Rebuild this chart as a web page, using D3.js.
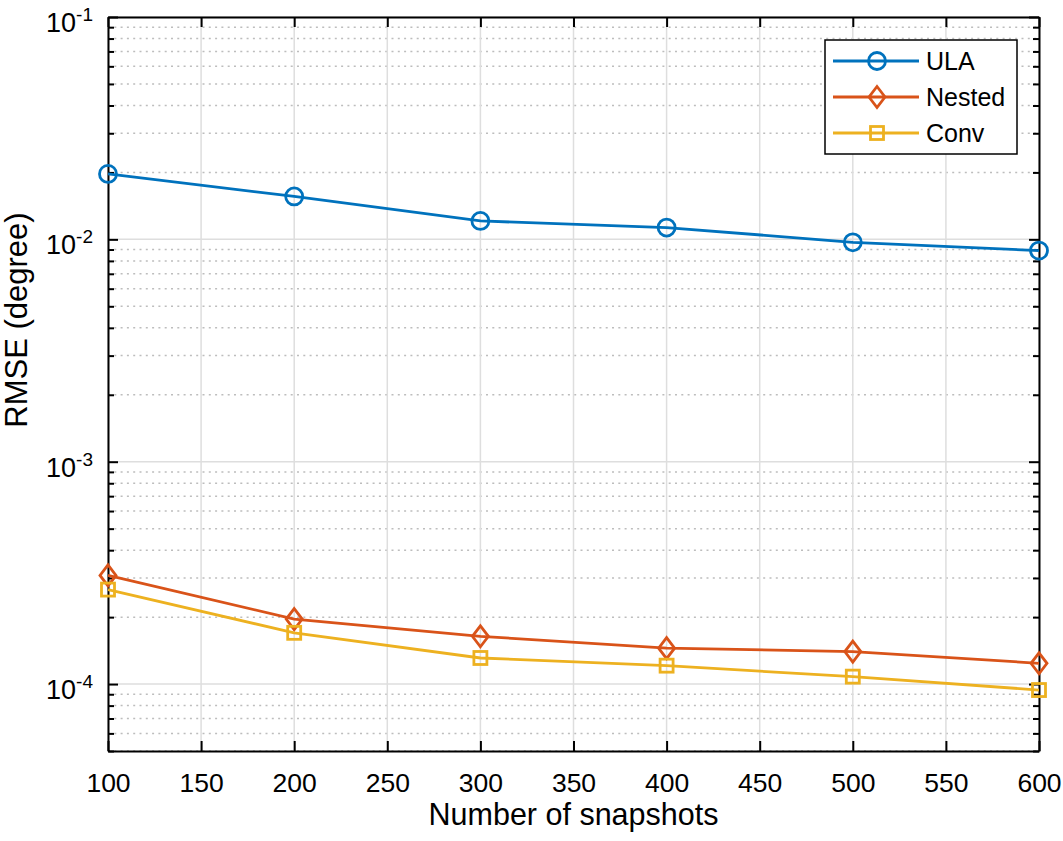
<!DOCTYPE html>
<html>
<head>
<meta charset="utf-8">
<script src="https://cdn.jsdelivr.net/npm/d3@7"></script>
<style>
  body { margin: 0; background: #fff; }
  svg { display: block; font-family: "Liberation Sans", Arial, Helvetica, sans-serif; }
</style>
</head>
<body>
<svg id="chart" width="1063" height="841"></svg>
<script>
// ---- data ----
const snapshots = [100, 200, 300, 400, 500, 600];
const ulaRMSE    = [0.0197, 0.0156, 0.0121, 0.0113, 0.0097, 0.0089];
const nestedRMSE = [3.08e-4, 1.96e-4, 1.64e-4, 1.45e-4, 1.40e-4, 1.24e-4];
const convRMSE   = [2.66e-4, 1.70e-4, 1.31e-4, 1.21e-4, 1.08e-4, 0.94e-4];
const seriesNames = ["ULA", "Nested", "Conv"];
const xTicks = [100, 150, 200, 250, 300, 350, 400, 450, 500, 550, 600];
const yMajorTicks = [1e-4, 1e-3, 1e-2, 1e-1];
const yMajorExp = ["-4", "-3", "-2", "-1"];
const xLabel = "Number of snapshots";
const yLabel = "RMSE (degree)";

// ---- layout ----
const L = 108, R = 1039, T = 17, B = 751;
const colors = ["#0072BD", "#D95319", "#EDB120"];
const markers = ["circle", "diamond", "square"];
const seriesVals = [ulaRMSE, nestedRMSE, convRMSE];
const LW = 2.8;

const svg = d3.select("#chart");
const x = d3.scaleLinear().domain([100, 600]).range([L, R]);
const y = d3.scaleLog().domain([5e-5, 0.1]).range([B, T]);

// minor y values
const yMinor = [];
[1e-5, 1e-4, 1e-3, 1e-2].forEach(d => {
  for (let k = 2; k <= 9; k++) {
    const v = k * d;
    if (v >= 5e-5 && v <= 0.1) yMinor.push(v);
  }
});

// ---- grid ----
const grid = svg.append("g");
grid.selectAll(".ymin").data(yMinor).join("line")
  .attr("x1", L).attr("x2", R)
  .attr("y1", d => y(d)).attr("y2", d => y(d))
  .attr("stroke", "#bdbdbd").attr("stroke-width", 1.5)
  .attr("stroke-dasharray", "2,4.3");
grid.selectAll(".xmaj").data(xTicks).join("line")
  .attr("x1", d => x(d)).attr("x2", d => x(d))
  .attr("y1", T).attr("y2", B)
  .attr("stroke", "#dedede").attr("stroke-width", 1.5);
grid.selectAll(".ymaj").data(yMajorTicks).join("line")
  .attr("x1", L).attr("x2", R)
  .attr("y1", d => y(d)).attr("y2", d => y(d))
  .attr("stroke", "#dedede").attr("stroke-width", 1.5);

// ---- axes ----
function styleAxis(g) {
  g.selectAll("path.domain").attr("stroke", "#000").attr("stroke-width", 2);
  g.selectAll(".tick line").attr("stroke", "#000").attr("stroke-width", 2);
}
const fs = 26.5;
const gx = svg.append("g").attr("transform", `translate(0,${B})`)
  .call(d3.axisBottom(x).tickValues(xTicks).tickSizeInner(-10).tickSizeOuter(0).tickPadding(22).tickFormat(d3.format("d")));
gx.attr("font-family", null);
gx.selectAll(".tick text").attr("font-size", fs).attr("fill", "#000");
styleAxis(gx);
const gxt = svg.append("g").attr("transform", `translate(0,${T})`)
  .call(d3.axisTop(x).tickValues(xTicks).tickSizeInner(-10).tickSizeOuter(0).tickFormat(""));
styleAxis(gxt);

const gy = svg.append("g").attr("transform", `translate(${L},0)`)
  .call(d3.axisLeft(y).tickValues(yMajorTicks).tickSizeInner(-10).tickSizeOuter(0).tickFormat(""));
styleAxis(gy);
const gyMin = svg.append("g").attr("transform", `translate(${L},0)`)
  .call(d3.axisLeft(y).tickValues(yMinor).tickSizeInner(-6).tickSizeOuter(0).tickFormat(""));
gyMin.select("path.domain").remove();
styleAxis(gyMin);
const gyr = svg.append("g").attr("transform", `translate(${R},0)`)
  .call(d3.axisRight(y).tickValues(yMajorTicks).tickSizeInner(-10).tickSizeOuter(0).tickFormat(""));
styleAxis(gyr);
const gyrMin = svg.append("g").attr("transform", `translate(${R},0)`)
  .call(d3.axisRight(y).tickValues(yMinor).tickSizeInner(-6).tickSizeOuter(0).tickFormat(""));
gyrMin.select("path.domain").remove();
styleAxis(gyrMin);

// y tick labels with superscripts
const ylab = svg.append("g");
yMajorTicks.forEach((v, i) => {
  const t = ylab.append("text")
    .attr("x", 93).attr("y", y(v) + 15)
    .attr("text-anchor", "end").attr("font-size", 27).attr("fill", "#000");
  t.append("tspan").text("10");
  t.append("tspan").attr("dy", -11).attr("font-size", 19).text(yMajorExp[i]);
});

// axis labels
svg.append("text").attr("x", (L + R) / 2).attr("y", 825)
  .attr("text-anchor", "middle").attr("font-size", 30.5).text(xLabel);
svg.append("text").attr("transform", `translate(27,320) rotate(-90)`)
  .attr("text-anchor", "middle").attr("font-size", 31).text(yLabel);

// ---- series ----
function drawMarker(g, type, cx, cy, color) {
  if (type === "circle") {
    g.append("circle").attr("cx", cx).attr("cy", cy).attr("r", 8.5)
      .attr("fill", "none").attr("stroke", color).attr("stroke-width", LW);
  } else if (type === "diamond") {
    const hw = 8, hh = 10.5;
    g.append("path").attr("d", `M${cx},${cy - hh}L${cx + hw},${cy}L${cx},${cy + hh}L${cx - hw},${cy}Z`)
      .attr("fill", "none").attr("stroke", color).attr("stroke-width", LW);
  } else {
    const h = 6.5;
    g.append("rect").attr("x", cx - h).attr("y", cy - h).attr("width", 2 * h).attr("height", 2 * h)
      .attr("fill", "none").attr("stroke", color).attr("stroke-width", LW);
  }
}
const line = d3.line().x(d => x(d[0])).y(d => y(d[1]));
seriesVals.forEach((vals, si) => {
  const g = svg.append("g");
  const pts = snapshots.map((s, i) => [s, vals[i]]);
  g.append("path").attr("d", line(pts)).attr("fill", "none")
    .attr("stroke", colors[si]).attr("stroke-width", LW);
  pts.forEach(p => drawMarker(g, markers[si], x(p[0]), y(p[1]), colors[si]));
});

// ---- legend ----
const lg = svg.append("g");
lg.append("rect").attr("x", 825).attr("y", 40).attr("width", 192).attr("height", 114)
  .attr("fill", "#fff").attr("stroke", "#000").attr("stroke-width", 1.5);
const rowsY = [61, 97, 133];
seriesNames.forEach((n, i) => {
  lg.append("line").attr("x1", 833).attr("x2", 919).attr("y1", rowsY[i]).attr("y2", rowsY[i])
    .attr("stroke", colors[i]).attr("stroke-width", LW);
  drawMarker(lg, markers[i], 877, rowsY[i], colors[i]);
  lg.append("text").attr("x", 926).attr("y", rowsY[i] + 9).attr("font-size", 25).text(n);
});
</script>
</body>
</html>
